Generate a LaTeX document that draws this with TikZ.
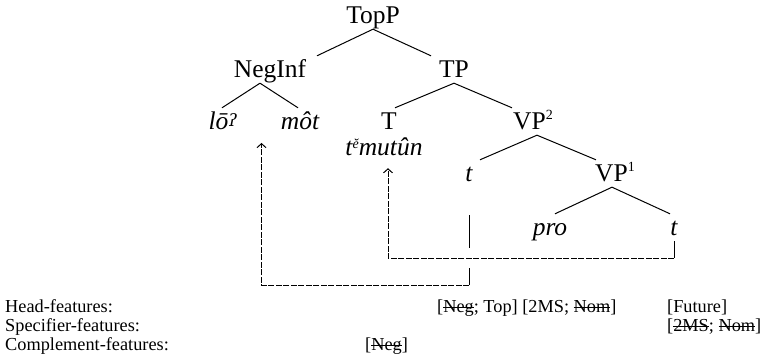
\documentclass[tikz,border=0pt]{standalone}
\usepackage{fontspec}
\setmainfont{Liberation Serif}
\newfontfamily\ipafont{DejaVu Serif}
\usetikzlibrary{arrows.meta,calc}

\tikzset{
  cat/.style={anchor=base, font=\fontsize{25.5}{30}\selectfont,
              inner xsep=1pt, inner ysep=5pt, text height=17pt, text depth=0pt},
  word/.style={cat, font=\fontsize{25.5}{30}\selectfont\itshape},
  branch/.style={line width=1pt},
  trace/.style={line width=1pt},
  movearrow/.style={line width=1pt, dash pattern=on 6pt off 1.5pt,
                    -{Straight Barb[length=4pt,width=9pt]}},
  feat/.style={anchor=base west, font=\fontsize{18.3}{20}\selectfont, inner sep=0pt}
}
% small raised index (VP^2, t^e)
\newcommand\idx[2][10pt]{\raisebox{#1}{\fontsize{14}{14}\selectfont #2}}
% checked (struck out) feature
\newsavebox\strikebox
\newcommand\struck[1]{\sbox\strikebox{#1}\rlap{\usebox\strikebox}\rule[0.3em]{\wd\strikebox}{0.8pt}}

\begin{document}
\begin{tikzpicture}[x=1pt, y=-1pt]
  \useasboundingbox (0,0) rectangle (764,363);

  % the tree
  \node[cat]  (TopP)   at (373,24)  {TopP};
  \node[cat]  (NegInf) at (270,78)  {NegInf};
  \node[cat]  (TP)     at (454,78)  {TP};
  \node[word] (lo)     at (223,130) {lō\raisebox{3pt}{\fontsize{17}{17}\selectfont\ipafont ʔ}};
  \node[word] (mot)    at (300,130) {môt};
  \node[cat]  (T)      at (389,130) {T};
  \node[word] (verb)   at (384,156) {t\idx[7pt]{ĕ}mutûn};
  \node[cat]  (VPii)   at (533,130) {VP\idx{2}};
  \node[word] (tA)     at (469,182) {t};
  \node[cat]  (VPi)    at (615,182) {VP\idx{1}};
  \node[word] (pro)    at (550,236) {pro};
  \node[word] (tB)     at (674,236) {t};

  \draw[branch] (TopP.south) -- ([xshift=47pt]NegInf.north);
  \draw[branch] (TopP.south) -- ([xshift=-23pt]TP.north);
  \draw[branch] ([xshift=-10pt]NegInf.south) -- ([xshift=-1pt]lo.north);
  \draw[branch] ([xshift=-10pt]NegInf.south) -- ([xshift=-2pt]mot.north);
  \draw[branch] (TP.south) -- ([xshift=6pt]T.north);
  \draw[branch] (TP.south) -- ([xshift=-21pt]VPii.north);
  \draw[branch] ([xshift=4pt]VPii.south) -- ([xshift=11pt]tA.north);
  \draw[branch] ([xshift=4pt]VPii.south) -- ([xshift=-19pt]VPi.north);
  \draw[branch] ([xshift=-3pt]VPi.south) -- ([xshift=5pt]pro.north);
  \draw[branch] ([xshift=-3pt]VPi.south) -- ([xshift=-4pt]tB.north);

  % movement of the verb and of the negation
  \draw[trace] (tB.south) -- +(0,17) coordinate (footB);
  \draw[movearrow] (footB) -| ([xshift=4pt,yshift=-7pt]verb.south);
  \draw[trace] ([yshift=-28pt]tA.south) -- +(0,33);
  \draw[trace] ([yshift=-81pt]tA.south) -- +(0,17) coordinate (footA);
  \draw[movearrow] (footA) -| ($(lo.base)!.5!(mot.base)+(0,13)$);

  % feature rows
  \node[feat] (head)  at (5,313)   {Head-features:};
  \node[feat] (spec)  at (5,332)   {Specifier-features:};
  \node[feat] (comp)  at (5,351)   {Complement-features:};
  \node[feat] (headT) at (437,313) {[\struck{Neg}; Top] [2MS; \struck{Nom}]};
  \node[feat] (headF) at (667,313) {[Future]};
  \node[feat] (specF) at (667,332) {[\struck{2MS}; \struck{Nom}]};
  \node[feat] (compN) at (365,351) {[\struck{Neg}]};
\end{tikzpicture}
\end{document}
